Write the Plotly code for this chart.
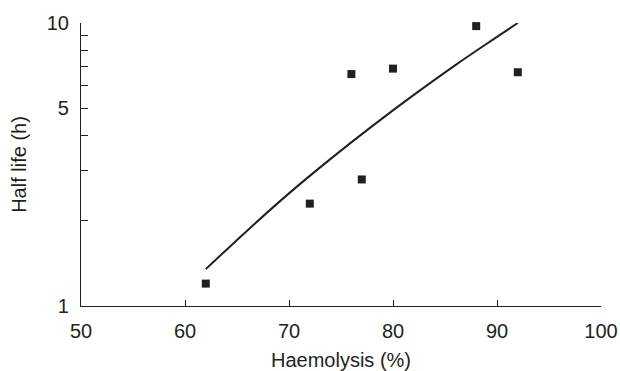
import plotly.graph_objects as go

# Observed data points
haemolysis = [62, 72, 76, 77, 80, 88, 92]
half_life = [1.2, 2.3, 6.6, 2.8, 6.9, 9.75, 6.7]

# Fitted curve, points
curve_x = [62, 66, 70, 74, 78, 82, 86, 90, 92]
curve_y = [1.35, 1.85, 2.5, 3.31, 4.32, 5.57, 7.1, 8.93, 10.0]

x_ticks = [50, 60, 70, 80, 90, 100]
y_ticks = [1, 2, 3, 4, 5, 6, 7, 8, 9, 10]
y_tick_text = ["1", "", "", "", "5", "", "", "", "", "10"]

ink = "#231f20"
font = "Liberation Sans, Arial, sans-serif"

fig = go.Figure()
fig.add_trace(go.Scatter(x=curve_x, y=curve_y, mode="lines",
                         line=dict(color=ink, width=2, shape="spline"),
                         showlegend=False, hoverinfo="skip"))
fig.add_trace(go.Scatter(x=haemolysis, y=half_life, mode="markers",
                         marker=dict(symbol="square", size=8, color=ink),
                         showlegend=False, cliponaxis=False))

fig.update_layout(
    width=620, height=371,
    margin=dict(l=81, r=19, t=23, b=65),
    paper_bgcolor="white", plot_bgcolor="white",
    font=dict(family=font, size=20, color=ink),
    xaxis=dict(range=[50, 100], tickvals=x_ticks, ticks="inside", ticklen=6,
               tickcolor=ink, showline=True, linecolor=ink, linewidth=1.2,
               showgrid=False, zeroline=False, automargin=False,
               ticklabelstandoff=7,
               title=dict(text="Haemolysis (%)", standoff=13, font=dict(size=20))),
    yaxis=dict(type="log", range=[0, 1], tickvals=y_ticks, ticktext=y_tick_text,
               ticks="inside", ticklen=7, tickcolor=ink, showline=True,
               linecolor=ink, linewidth=1.2, showgrid=False, zeroline=False,
               automargin=False, ticklabelstandoff=7,
               title=dict(text="Half life (h)", standoff=14, font=dict(size=20))),
)

# remove the default page margin so the figure sits at the window's top-left corner
fig.write_html(
    "out.html",
    config={"displayModeBar": False},
    post_script="document.body.style.margin='0';"
                "document.documentElement.style.overflow='hidden';",
)
